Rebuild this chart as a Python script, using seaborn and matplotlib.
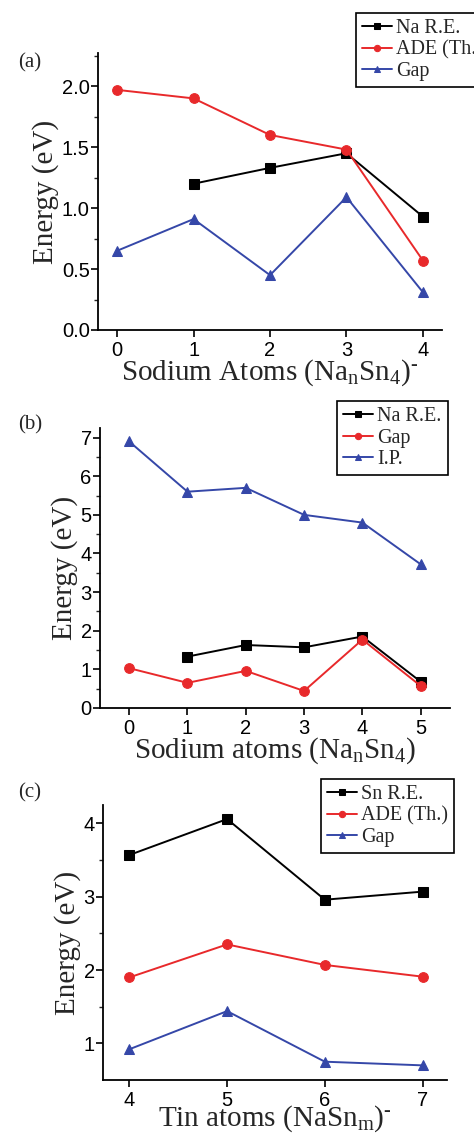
import numpy as np
import pandas as pd
import matplotlib
matplotlib.use('Agg')
import matplotlib.pyplot as plt
import seaborn as sns

# panel (a): Na_nSn_4^- clusters
a_x = [0, 1, 2, 3, 4]
a_na_re_x = [1, 2, 3, 4]
a_na_re = [1.20, 1.33, 1.45, 0.93]
a_ade = [1.97, 1.90, 1.60, 1.48, 0.57]
a_gap = [0.65, 0.91, 0.45, 1.09, 0.31]

# panel (b): Na_nSn_4 neutrals
b_x = [0, 1, 2, 3, 4, 5]
b_na_re_x = [1, 2, 3, 4, 5]
b_na_re = [1.33, 1.63, 1.57, 1.85, 0.68]
b_gap = [1.03, 0.65, 0.96, 0.44, 1.77, 0.57]
b_ip = [6.90, 5.60, 5.70, 5.00, 4.80, 3.72]

# panel (c): NaSn_m^- clusters
c_x = [4, 5, 6, 7]
c_sn_re = [3.57, 4.06, 2.96, 3.07]
c_ade = [1.90, 2.35, 2.07, 1.91]
c_gap = [0.92, 1.44, 0.75, 0.70]

BLACK = '#000000'
RED = '#e8292b'
BLUE = '#3547a8'

sns.set_style('ticks')
plt.rcParams['font.family'] = ['Liberation Sans', 'DejaVu Sans']
plt.rcParams['mathtext.fontset'] = 'custom'
plt.rcParams['mathtext.rm'] = 'Liberation Serif'
plt.rcParams['mathtext.it'] = 'Liberation Serif'

SERIF = ['Liberation Serif', 'DejaVu Serif']

fig = plt.figure(figsize=(4.74, 11.34), dpi=100)
ax_a = fig.add_axes([0.2068, 0.709, 0.7257, 0.244])
ax_b = fig.add_axes([0.211, 0.3757, 0.738, 0.2469])
ax_c = fig.add_axes([0.2173, 0.0476, 0.7257, 0.2424])


def draw(ax, x, y, color, marker, label):
    sns.lineplot(x=x, y=y, ax=ax, color=color, marker=marker, markersize=7,
                 markeredgecolor=color, linewidth=1.4, label=label)


draw(ax_a, a_na_re_x, a_na_re, BLACK, 's', 'Na R.E.')
draw(ax_a, a_x, a_ade, RED, 'o', 'ADE (Th.)')
draw(ax_a, a_x, a_gap, BLUE, '^', 'Gap')

draw(ax_b, b_na_re_x, b_na_re, BLACK, 's', 'Na R.E.')
draw(ax_b, b_x, b_gap, RED, 'o', 'Gap')
draw(ax_b, b_x, b_ip, BLUE, '^', 'I.P.')

draw(ax_c, c_x, c_sn_re, BLACK, 's', 'Sn R.E.')
draw(ax_c, c_x, c_ade, RED, 'o', 'ADE (Th.)')
draw(ax_c, c_x, c_gap, BLUE, '^', 'Gap')

# axis limits and ticks
ax_a.set_xlim(-0.25, 4.25)
ax_a.set_ylim(0, 2.27)
ax_a.set_xticks(a_x)
ax_a.set_yticks([0.0, 0.5, 1.0, 1.5, 2.0])
ax_a.set_yticklabels(['0.0', '0.5', '1.0', '1.5', '2.0'])
ax_a.set_yticks(np.arange(0.25, 2.3, 0.5), minor=True)

ax_b.set_xlim(-0.5, 5.5)
ax_b.set_ylim(0, 7.25)
ax_b.set_xticks(b_x)
ax_b.set_yticks(range(0, 8))
ax_b.set_yticks(np.arange(0.5, 7.3, 1.0), minor=True)

ax_c.set_xlim(3.73, 7.25)
ax_c.set_ylim(0.5, 4.25)
ax_c.set_xticks(c_x)
ax_c.set_yticks([1, 2, 3, 4])
ax_c.set_yticks([1.5, 2.5, 3.5], minor=True)

xlabels = [r'Sodium Atoms (Na$_\mathrm{n}$Sn$_\mathrm{4}$)$^\text{-}$',
           r'Sodium atoms (Na$_\mathrm{n}$Sn$_\mathrm{4}$)',
           r'Tin atoms (NaSn$_\mathrm{m}$)$^\text{-}$']
xpads = [-2, -2, -5]
legend_pos = [(0.751, 0.9885), (0.711, 0.6464), (0.677, 0.313)]
panel_labels = ['(a)', '(b)', '(c)']
panel_y = [0.945, 0.625, 0.301]

for ax, xl, xp, lp, pl, py in zip([ax_a, ax_b, ax_c], xlabels, xpads, legend_pos,
                                  panel_labels, panel_y):
    sns.despine(ax=ax)
    for s in ['left', 'bottom']:
        ax.spines[s].set_linewidth(1.3)
        ax.spines[s].set_color('black')
    ax.tick_params(axis='both', which='major', direction='out', length=5, width=1.2,
                   labelsize=14.5, pad=1, colors='black')
    ax.tick_params(axis='x', which='major', pad=3)
    ax.tick_params(axis='y', which='minor', direction='out', length=3, width=1.0)
    ax.set_xlabel(xl, fontsize=21, family=SERIF, labelpad=xp)
    ax.set_ylabel('Energy (eV)', fontsize=21, family=SERIF, labelpad=2)
    leg = ax.legend(loc='upper left', bbox_to_anchor=lp, bbox_transform=fig.transFigure,
                    frameon=True, fancybox=False, edgecolor='black', framealpha=1,
                    prop={'family': SERIF, 'size': 14.5}, handlelength=1.5,
                    handletextpad=0.2, labelspacing=0.12, borderpad=0.3,
                    borderaxespad=0, markerscale=0.65)
    leg.get_frame().set_linewidth(1.2)
    fig.text(0.038, py, pl, fontsize=15, family=SERIF, va='center', ha='left')

fig.savefig('out.png', dpi=100)
